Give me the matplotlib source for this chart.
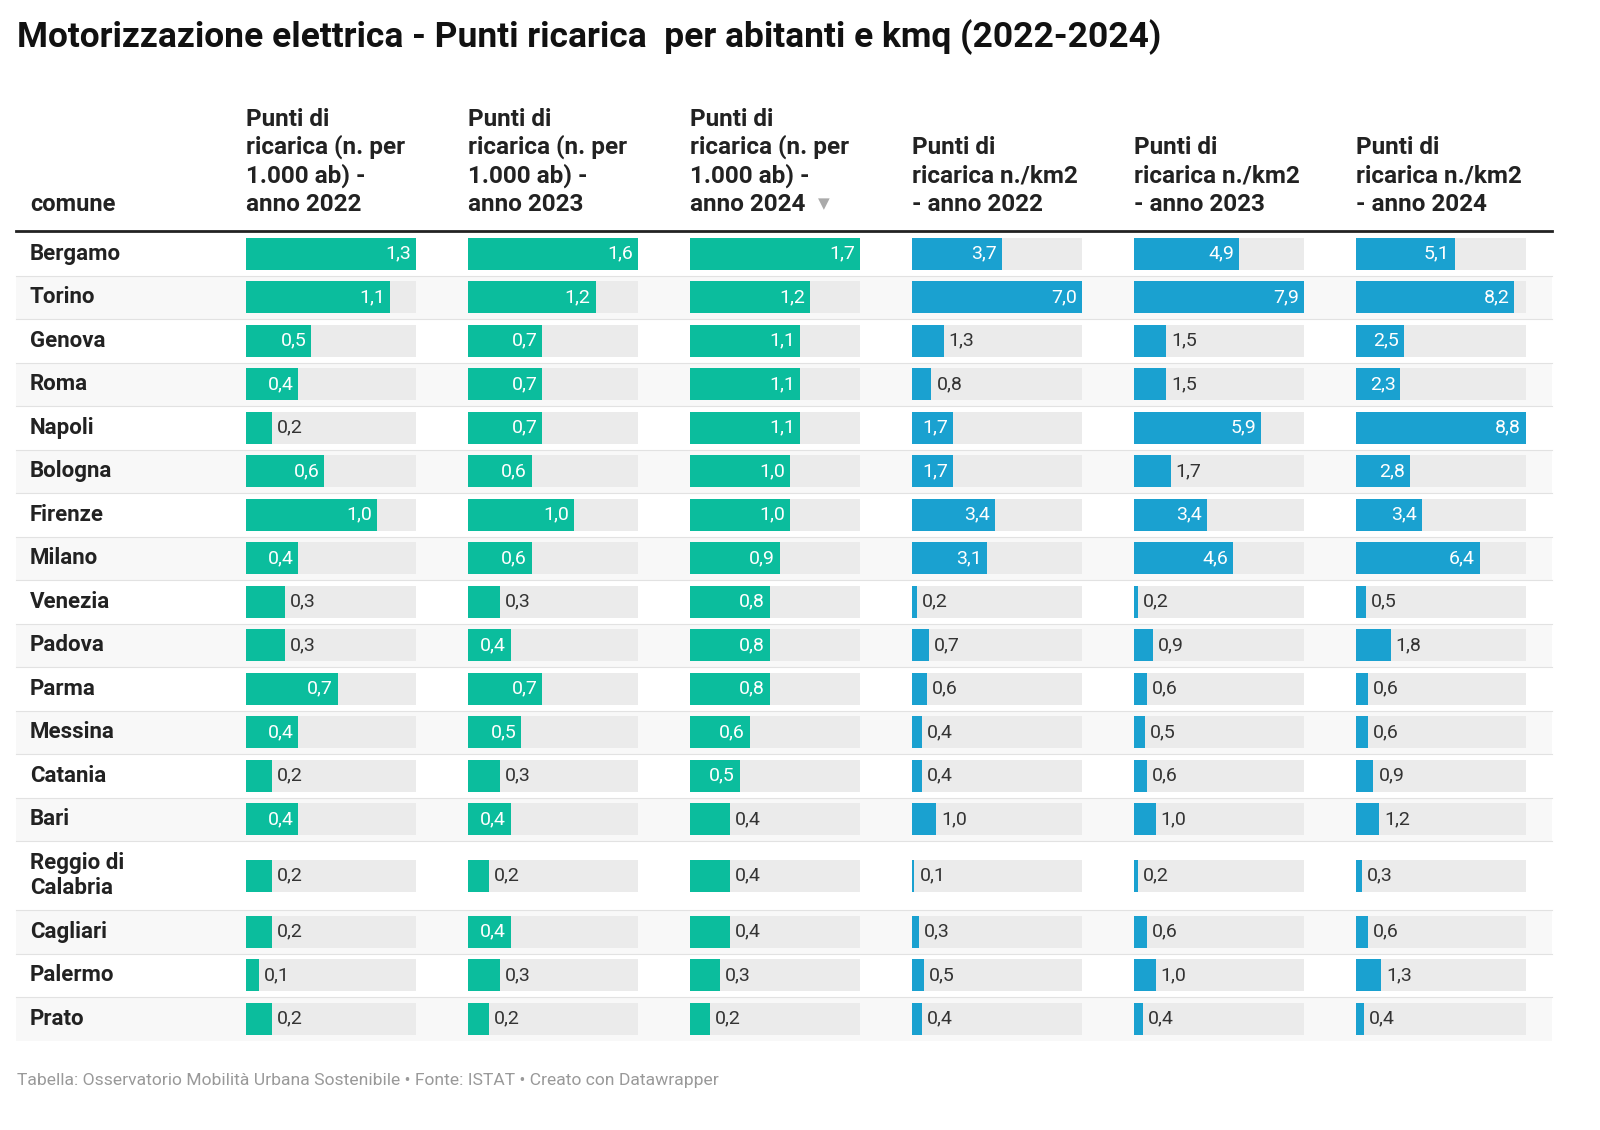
import matplotlib.pyplot as plt
import matplotlib.patches as mpatches

plt.rcParams['font.family'] = ['Roboto', 'DejaVu Sans']

# ==========================
# Dati
# ==========================
comuni = ['Bergamo', 'Torino', 'Genova', 'Roma', 'Napoli', 'Bologna', 'Firenze',
          'Milano', 'Venezia', 'Padova', 'Parma', 'Messina', 'Catania', 'Bari',
          'Reggio di\nCalabria', 'Cagliari', 'Palermo', 'Prato']
ab_2022 = [1.3, 1.1, 0.5, 0.4, 0.2, 0.6, 1.0, 0.4, 0.3, 0.3, 0.7, 0.4, 0.2, 0.4, 0.2, 0.2, 0.1, 0.2]
ab_2023 = [1.6, 1.2, 0.7, 0.7, 0.7, 0.6, 1.0, 0.6, 0.3, 0.4, 0.7, 0.5, 0.3, 0.4, 0.2, 0.4, 0.3, 0.2]
ab_2024 = [1.7, 1.2, 1.1, 1.1, 1.1, 1.0, 1.0, 0.9, 0.8, 0.8, 0.8, 0.6, 0.5, 0.4, 0.4, 0.4, 0.3, 0.2]
km_2022 = [3.7, 7.0, 1.3, 0.8, 1.7, 1.7, 3.4, 3.1, 0.2, 0.7, 0.6, 0.4, 0.4, 1.0, 0.1, 0.3, 0.5, 0.4]
km_2023 = [4.9, 7.9, 1.5, 1.5, 5.9, 1.7, 3.4, 4.6, 0.2, 0.9, 0.6, 0.5, 0.6, 1.0, 0.2, 0.6, 1.0, 0.4]
km_2024 = [5.1, 8.2, 2.5, 2.3, 8.8, 2.8, 3.4, 6.4, 0.5, 1.8, 0.6, 0.6, 0.9, 1.2, 0.3, 0.6, 1.3, 0.4]

intestazioni = ['Punti di\nricarica (n. per\n1.000 ab) -\nanno 2022',
                'Punti di\nricarica (n. per\n1.000 ab) -\nanno 2023',
                'Punti di\nricarica (n. per\n1.000 ab) -\nanno 2024',
                'Punti di\nricarica n./km2\n- anno 2022',
                'Punti di\nricarica n./km2\n- anno 2023',
                'Punti di\nricarica n./km2\n- anno 2024']
colonne = [ab_2022, ab_2023, ab_2024, km_2022, km_2023, km_2024]

VERDE = '#0bbd9d'
BLU = '#1aa1d0'
colori = [VERDE, VERDE, VERDE, BLU, BLU, BLU]

# ==========================
# Layout (coordinate in pixel)
# ==========================
col_x = [246, 468, 690, 912, 1134, 1356]
col_w = 170
bar_h = 32
row_h = [43.5] * len(comuni)
row_h[14] = 69

fig = plt.figure(figsize=(16, 11.3), dpi=100)
ax = fig.add_axes([0, 0, 1, 1])
ax.set_xlim(0, 1600)
ax.set_ylim(1130, 0)
ax.axis('off')

ax.text(17, 37, 'Motorizzazione elettrica - Punti ricarica  per abitanti e kmq (2022-2024)',
        fontsize=25.5, fontweight='bold', va='center', color='#111111')

ax.text(30, 211, 'comune', fontsize=17, fontweight='bold', va='baseline', color='#222222')
for j, testo in enumerate(intestazioni):
    righe = testo.split('\n')
    for k, riga in enumerate(reversed(righe)):
        ax.text(col_x[j], 211 - k * 28.5, riga, fontsize=17.5, fontweight='bold',
                va='baseline', color='#222222')
ax.text(col_x[2] + 128, 204, '▼', fontsize=11, color='#aaaaaa', va='center',
        family=['DejaVu Sans'])

ax.plot([16, 1552], [231, 231], color='#222222', lw=2)

# centri delle righe
centri = []
y = 232
for h in row_h:
    centri.append(y + h / 2)
    y += h

for i, nome in enumerate(comuni):
    yc = centri[i]
    top = yc - row_h[i] / 2
    if i % 2 == 1:
        ax.add_patch(mpatches.Rectangle((16, top), 1536, row_h[i], color='#f8f8f8', zorder=0, lw=0))
    if i > 0:
        ax.plot([16, 1552], [top, top], color='#e2e2e2', lw=0.8, zorder=1)
    ax.text(30, yc, nome, fontsize=16, fontweight='bold', va='center',
            color='#222222', linespacing=1.2)

for j, valori in enumerate(colonne):
    massimo = max(valori)
    larghezze = [v / massimo * col_w for v in valori]
    ax.barh(centri, [col_w] * len(valori), left=col_x[j], height=bar_h,
            color='#ebebeb', zorder=2)
    ax.barh(centri, larghezze, left=col_x[j], height=bar_h, color=colori[j], zorder=3)
    for yc, v, w in zip(centri, valori, larghezze):
        etichetta = f'{v:.1f}'.replace('.', ',')
        if w > 41:
            ax.text(col_x[j] + w - 5, yc, etichetta, ha='right', va='center',
                    fontsize=14, color='white', zorder=4)
        else:
            ax.text(col_x[j] + w + 5, yc, etichetta, ha='left', va='center',
                    fontsize=14, color='#333333', zorder=4)

ax.text(17, 1080, 'Tabella: Osservatorio Mobilità Urbana Sostenibile • Fonte: ISTAT • Creato con Datawrapper',
        fontsize=12.6, color='#999999', va='center')

fig.savefig('out.png', dpi=100, facecolor='white')
